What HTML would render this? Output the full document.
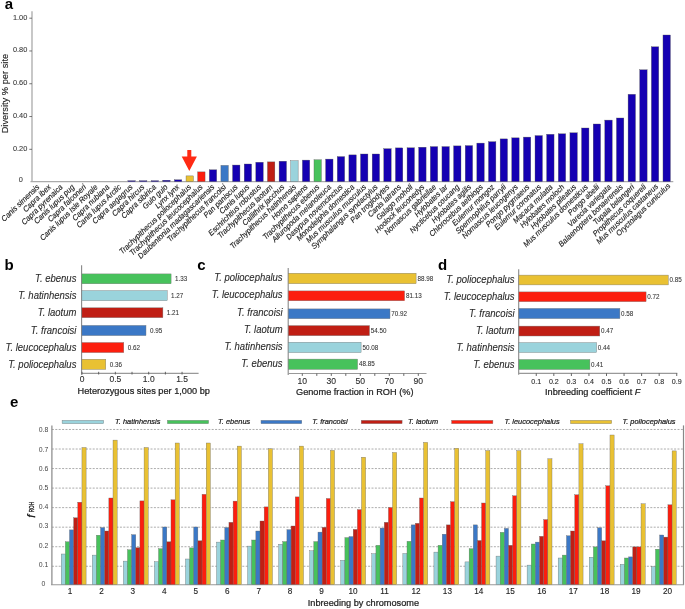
<!DOCTYPE html>
<html><head><meta charset="utf-8"><style>
html,body{margin:0;padding:0;background:#fff;width:685px;height:609px;overflow:hidden;}
svg{display:block;will-change:transform;font-family:"Liberation Sans", sans-serif;}
</style></head><body>
<svg width="685" height="609" viewBox="0 0 685 609">
<rect width="685" height="609" fill="#fff"/>
<text transform="translate(4.80,8.70) scale(1,1)" font-size="15" text-anchor="start" fill="#000" stroke="#000" stroke-width="0" font-weight="bold">a</text>
<line x1="32.00" y1="11.30" x2="32.00" y2="182.10" stroke="#aaa" stroke-width="1.3"/>
<line x1="30.50" y1="181.70" x2="673.30" y2="181.70" stroke="#aaa" stroke-width="1.2"/>
<line x1="29.30" y1="18.20" x2="32.00" y2="18.20" stroke="#555" stroke-width="0.8"/>
<text transform="translate(27.30,19.50) scale(1,1.07)" font-size="7.4" text-anchor="end" fill="#3a3a3a" stroke="#3a3a3a" stroke-width="0.22" stroke-opacity="0.4">1.00</text>
<line x1="29.30" y1="50.98" x2="32.00" y2="50.98" stroke="#555" stroke-width="0.8"/>
<text transform="translate(27.30,52.28) scale(1,1.07)" font-size="7.4" text-anchor="end" fill="#3a3a3a" stroke="#3a3a3a" stroke-width="0.22" stroke-opacity="0.4">0.80</text>
<line x1="29.30" y1="83.76" x2="32.00" y2="83.76" stroke="#555" stroke-width="0.8"/>
<text transform="translate(27.30,85.06) scale(1,1.07)" font-size="7.4" text-anchor="end" fill="#3a3a3a" stroke="#3a3a3a" stroke-width="0.22" stroke-opacity="0.4">0.60</text>
<line x1="29.30" y1="116.54" x2="32.00" y2="116.54" stroke="#555" stroke-width="0.8"/>
<text transform="translate(27.30,117.84) scale(1,1.07)" font-size="7.4" text-anchor="end" fill="#3a3a3a" stroke="#3a3a3a" stroke-width="0.22" stroke-opacity="0.4">0.40</text>
<line x1="29.30" y1="149.32" x2="32.00" y2="149.32" stroke="#555" stroke-width="0.8"/>
<text transform="translate(27.30,150.62) scale(1,1.07)" font-size="7.4" text-anchor="end" fill="#3a3a3a" stroke="#3a3a3a" stroke-width="0.22" stroke-opacity="0.4">0.20</text>
<text transform="translate(22.80,182.00) scale(1,1.07)" font-size="7.4" text-anchor="end" fill="#3a3a3a" stroke="#3a3a3a" stroke-width="0.22" stroke-opacity="0.4">0</text>
<text transform="translate(7.9,93.6) rotate(-90) scale(1,1.07)" font-size="9.3" text-anchor="middle" fill="#222" stroke="#222" stroke-width="0.12">Diversity % per site</text>
<text transform="translate(39.90,187.70) rotate(-44) scale(1,1.07)" font-size="7.35" font-style="italic" text-anchor="end" fill="#222" stroke="#222" stroke-width="0.14">Canis simensis</text>
<text transform="translate(51.57,187.70) rotate(-44) scale(1,1.07)" font-size="7.35" font-style="italic" text-anchor="end" fill="#222" stroke="#222" stroke-width="0.14">Capra ibex</text>
<text transform="translate(63.24,187.70) rotate(-44) scale(1,1.07)" font-size="7.35" font-style="italic" text-anchor="end" fill="#222" stroke="#222" stroke-width="0.14">Capra pyrenaica</text>
<text transform="translate(74.90,187.70) rotate(-44) scale(1,1.07)" font-size="7.35" font-style="italic" text-anchor="end" fill="#222" stroke="#222" stroke-width="0.14">Canis lupus pug</text>
<text transform="translate(86.57,187.70) rotate(-44) scale(1,1.07)" font-size="7.35" font-style="italic" text-anchor="end" fill="#222" stroke="#222" stroke-width="0.14">Capra falconeri</text>
<text transform="translate(98.24,187.70) rotate(-44) scale(1,1.07)" font-size="7.35" font-style="italic" text-anchor="end" fill="#222" stroke="#222" stroke-width="0.14">Canis lupus Isle Royale</text>
<text transform="translate(109.91,187.70) rotate(-44) scale(1,1.07)" font-size="7.35" font-style="italic" text-anchor="end" fill="#222" stroke="#222" stroke-width="0.14">Capra nubiana</text>
<text transform="translate(121.58,187.70) rotate(-44) scale(1,1.07)" font-size="7.35" font-style="italic" text-anchor="end" fill="#222" stroke="#222" stroke-width="0.14">Canis lupus Arctic</text>
<rect x="127.86" y="180.70" width="7.40" height="0.90" fill="#1500b2" stroke="#555" stroke-width="0.35"/>
<text transform="translate(133.24,187.70) rotate(-44) scale(1,1.07)" font-size="7.35" font-style="italic" text-anchor="end" fill="#222" stroke="#222" stroke-width="0.14">Capra aegagrus</text>
<rect x="139.50" y="180.70" width="7.40" height="0.90" fill="#1500b2" stroke="#555" stroke-width="0.35"/>
<text transform="translate(144.91,187.70) rotate(-44) scale(1,1.07)" font-size="7.35" font-style="italic" text-anchor="end" fill="#222" stroke="#222" stroke-width="0.14">Capra hircus</text>
<rect x="151.13" y="180.70" width="7.40" height="0.90" fill="#1500b2" stroke="#555" stroke-width="0.35"/>
<text transform="translate(156.58,187.70) rotate(-44) scale(1,1.07)" font-size="7.35" font-style="italic" text-anchor="end" fill="#222" stroke="#222" stroke-width="0.14">Capra sibirica</text>
<rect x="162.76" y="180.20" width="7.40" height="1.40" fill="#1500b2" stroke="#555" stroke-width="0.35"/>
<text transform="translate(168.25,187.70) rotate(-44) scale(1,1.07)" font-size="7.35" font-style="italic" text-anchor="end" fill="#222" stroke="#222" stroke-width="0.14">Gulo gulo</text>
<rect x="174.40" y="179.80" width="7.40" height="1.80" fill="#1500b2" stroke="#555" stroke-width="0.35"/>
<text transform="translate(179.92,187.70) rotate(-44) scale(1,1.07)" font-size="7.35" font-style="italic" text-anchor="end" fill="#222" stroke="#222" stroke-width="0.14">Lynx lynx</text>
<rect x="186.03" y="175.90" width="7.40" height="5.70" fill="#e9c133" stroke="#555" stroke-width="0.35"/>
<text transform="translate(191.58,187.70) rotate(-44) scale(1,1.07)" font-size="7.35" font-style="italic" text-anchor="end" fill="#222" stroke="#222" stroke-width="0.14">Trachypithecus poliocephalus</text>
<rect x="197.66" y="171.90" width="7.40" height="9.70" fill="#fc1e0e" stroke="#555" stroke-width="0.35"/>
<text transform="translate(203.25,187.70) rotate(-44) scale(1,1.07)" font-size="7.35" font-style="italic" text-anchor="end" fill="#222" stroke="#222" stroke-width="0.14">Trachypithecus leucocephalus</text>
<rect x="209.29" y="169.80" width="7.40" height="11.80" fill="#1500b2" stroke="#555" stroke-width="0.35"/>
<text transform="translate(214.92,187.70) rotate(-44) scale(1,1.07)" font-size="7.35" font-style="italic" text-anchor="end" fill="#222" stroke="#222" stroke-width="0.14">Daubentonia madagascariensis</text>
<rect x="220.93" y="165.40" width="7.40" height="16.20" fill="#3b78c6" stroke="#555" stroke-width="0.35"/>
<text transform="translate(226.59,187.70) rotate(-44) scale(1,1.07)" font-size="7.35" font-style="italic" text-anchor="end" fill="#222" stroke="#222" stroke-width="0.14">Trachypithecus francoisi</text>
<rect x="232.56" y="165.05" width="7.40" height="16.55" fill="#1500b2" stroke="#555" stroke-width="0.35"/>
<text transform="translate(238.26,187.70) rotate(-44) scale(1,1.07)" font-size="7.35" font-style="italic" text-anchor="end" fill="#222" stroke="#222" stroke-width="0.14">Pan paniscus</text>
<rect x="244.19" y="164.00" width="7.40" height="17.60" fill="#1500b2" stroke="#555" stroke-width="0.35"/>
<text transform="translate(249.92,187.70) rotate(-44) scale(1,1.07)" font-size="7.35" font-style="italic" text-anchor="end" fill="#222" stroke="#222" stroke-width="0.14">Canis lupus</text>
<rect x="255.83" y="162.25" width="7.40" height="19.35" fill="#1500b2" stroke="#555" stroke-width="0.35"/>
<text transform="translate(261.59,187.70) rotate(-44) scale(1,1.07)" font-size="7.35" font-style="italic" text-anchor="end" fill="#222" stroke="#222" stroke-width="0.14">Eschrichtius robustus</text>
<rect x="267.46" y="161.90" width="7.40" height="19.70" fill="#c01e14" stroke="#555" stroke-width="0.35"/>
<text transform="translate(273.26,187.70) rotate(-44) scale(1,1.07)" font-size="7.35" font-style="italic" text-anchor="end" fill="#222" stroke="#222" stroke-width="0.14">Trachypithecus laotum</text>
<rect x="279.09" y="161.20" width="7.40" height="20.40" fill="#1500b2" stroke="#555" stroke-width="0.35"/>
<text transform="translate(284.93,187.70) rotate(-44) scale(1,1.07)" font-size="7.35" font-style="italic" text-anchor="end" fill="#222" stroke="#222" stroke-width="0.14">Callithrix jacchus</text>
<rect x="290.73" y="160.75" width="7.40" height="20.85" fill="#9ad3dc" stroke="#555" stroke-width="0.35"/>
<text transform="translate(296.60,187.70) rotate(-44) scale(1,1.07)" font-size="7.35" font-style="italic" text-anchor="end" fill="#222" stroke="#222" stroke-width="0.14">Trachypithecus hatinhensis</text>
<rect x="302.36" y="160.10" width="7.40" height="21.50" fill="#1500b2" stroke="#555" stroke-width="0.35"/>
<text transform="translate(308.26,187.70) rotate(-44) scale(1,1.07)" font-size="7.35" font-style="italic" text-anchor="end" fill="#222" stroke="#222" stroke-width="0.14">Homo sapiens</text>
<rect x="313.99" y="159.80" width="7.40" height="21.80" fill="#47c25c" stroke="#555" stroke-width="0.35"/>
<text transform="translate(319.93,187.70) rotate(-44) scale(1,1.07)" font-size="7.35" font-style="italic" text-anchor="end" fill="#222" stroke="#222" stroke-width="0.14">Trachypithecus ebenus</text>
<rect x="325.62" y="159.10" width="7.40" height="22.50" fill="#1500b2" stroke="#555" stroke-width="0.35"/>
<text transform="translate(331.60,187.70) rotate(-44) scale(1,1.07)" font-size="7.35" font-style="italic" text-anchor="end" fill="#222" stroke="#222" stroke-width="0.14">Ailuropoda melanoleuca</text>
<rect x="337.26" y="156.60" width="7.40" height="25.00" fill="#1500b2" stroke="#555" stroke-width="0.35"/>
<text transform="translate(343.27,187.70) rotate(-44) scale(1,1.07)" font-size="7.35" font-style="italic" text-anchor="end" fill="#222" stroke="#222" stroke-width="0.14">Dasypus novemcinctus</text>
<rect x="348.89" y="154.90" width="7.40" height="26.70" fill="#1500b2" stroke="#555" stroke-width="0.35"/>
<text transform="translate(354.94,187.70) rotate(-44) scale(1,1.07)" font-size="7.35" font-style="italic" text-anchor="end" fill="#222" stroke="#222" stroke-width="0.14">Monodelphis domestica</text>
<rect x="360.52" y="154.00" width="7.40" height="27.60" fill="#1500b2" stroke="#555" stroke-width="0.35"/>
<text transform="translate(366.60,187.70) rotate(-44) scale(1,1.07)" font-size="7.35" font-style="italic" text-anchor="end" fill="#222" stroke="#222" stroke-width="0.14">Mus musculus musculus</text>
<rect x="372.16" y="154.00" width="7.40" height="27.60" fill="#1500b2" stroke="#555" stroke-width="0.35"/>
<text transform="translate(378.27,187.70) rotate(-44) scale(1,1.07)" font-size="7.35" font-style="italic" text-anchor="end" fill="#222" stroke="#222" stroke-width="0.14">Symphalangus syndactylus</text>
<rect x="383.79" y="148.70" width="7.40" height="32.90" fill="#1500b2" stroke="#555" stroke-width="0.35"/>
<text transform="translate(389.94,187.70) rotate(-44) scale(1,1.07)" font-size="7.35" font-style="italic" text-anchor="end" fill="#222" stroke="#222" stroke-width="0.14">Pan troglodytes</text>
<rect x="395.42" y="147.90" width="7.40" height="33.70" fill="#1500b2" stroke="#555" stroke-width="0.35"/>
<text transform="translate(401.61,187.70) rotate(-44) scale(1,1.07)" font-size="7.35" font-style="italic" text-anchor="end" fill="#222" stroke="#222" stroke-width="0.14">Canis latrans</text>
<rect x="407.06" y="147.80" width="7.40" height="33.80" fill="#1500b2" stroke="#555" stroke-width="0.35"/>
<text transform="translate(413.28,187.70) rotate(-44) scale(1,1.07)" font-size="7.35" font-style="italic" text-anchor="end" fill="#222" stroke="#222" stroke-width="0.14">Galago moholi</text>
<rect x="418.69" y="147.20" width="7.40" height="34.40" fill="#1500b2" stroke="#555" stroke-width="0.35"/>
<text transform="translate(424.94,187.70) rotate(-44) scale(1,1.07)" font-size="7.35" font-style="italic" text-anchor="end" fill="#222" stroke="#222" stroke-width="0.14">Hoolock leuconedys</text>
<rect x="430.32" y="146.60" width="7.40" height="35.00" fill="#1500b2" stroke="#555" stroke-width="0.35"/>
<text transform="translate(436.61,187.70) rotate(-44) scale(1,1.07)" font-size="7.35" font-style="italic" text-anchor="end" fill="#222" stroke="#222" stroke-width="0.14">Nomascus gabriellae</text>
<rect x="441.95" y="146.60" width="7.40" height="35.00" fill="#1500b2" stroke="#555" stroke-width="0.35"/>
<text transform="translate(448.28,187.70) rotate(-44) scale(1,1.07)" font-size="7.35" font-style="italic" text-anchor="end" fill="#222" stroke="#222" stroke-width="0.14">Hylobates lar</text>
<rect x="453.59" y="145.90" width="7.40" height="35.70" fill="#1500b2" stroke="#555" stroke-width="0.35"/>
<text transform="translate(459.95,187.70) rotate(-44) scale(1,1.07)" font-size="7.35" font-style="italic" text-anchor="end" fill="#222" stroke="#222" stroke-width="0.14">Nycticebus coucang</text>
<rect x="465.22" y="145.60" width="7.40" height="36.00" fill="#1500b2" stroke="#555" stroke-width="0.35"/>
<text transform="translate(471.62,187.70) rotate(-44) scale(1,1.07)" font-size="7.35" font-style="italic" text-anchor="end" fill="#222" stroke="#222" stroke-width="0.14">Hylobates agilis</text>
<rect x="476.85" y="143.10" width="7.40" height="38.50" fill="#1500b2" stroke="#555" stroke-width="0.35"/>
<text transform="translate(483.28,187.70) rotate(-44) scale(1,1.07)" font-size="7.35" font-style="italic" text-anchor="end" fill="#222" stroke="#222" stroke-width="0.14">Chlorocebus aethiops</text>
<rect x="488.49" y="141.70" width="7.40" height="39.90" fill="#1500b2" stroke="#555" stroke-width="0.35"/>
<text transform="translate(494.95,187.70) rotate(-44) scale(1,1.07)" font-size="7.35" font-style="italic" text-anchor="end" fill="#222" stroke="#222" stroke-width="0.14">Eulemur mongoz</text>
<rect x="500.12" y="138.90" width="7.40" height="42.70" fill="#1500b2" stroke="#555" stroke-width="0.35"/>
<text transform="translate(506.62,187.70) rotate(-44) scale(1,1.07)" font-size="7.35" font-style="italic" text-anchor="end" fill="#222" stroke="#222" stroke-width="0.14">Spermophilus parryii</text>
<rect x="511.75" y="137.85" width="7.40" height="43.75" fill="#1500b2" stroke="#555" stroke-width="0.35"/>
<text transform="translate(518.29,187.70) rotate(-44) scale(1,1.07)" font-size="7.35" font-style="italic" text-anchor="end" fill="#222" stroke="#222" stroke-width="0.14">Nomascus leucogenys</text>
<rect x="523.39" y="137.10" width="7.40" height="44.50" fill="#1500b2" stroke="#555" stroke-width="0.35"/>
<text transform="translate(529.96,187.70) rotate(-44) scale(1,1.07)" font-size="7.35" font-style="italic" text-anchor="end" fill="#222" stroke="#222" stroke-width="0.14">Pongo pygmaeus</text>
<rect x="535.02" y="135.60" width="7.40" height="46.00" fill="#1500b2" stroke="#555" stroke-width="0.35"/>
<text transform="translate(541.62,187.70) rotate(-44) scale(1,1.07)" font-size="7.35" font-style="italic" text-anchor="end" fill="#222" stroke="#222" stroke-width="0.14">Eulemur coronatus</text>
<rect x="546.65" y="134.30" width="7.40" height="47.30" fill="#1500b2" stroke="#555" stroke-width="0.35"/>
<text transform="translate(553.29,187.70) rotate(-44) scale(1,1.07)" font-size="7.35" font-style="italic" text-anchor="end" fill="#222" stroke="#222" stroke-width="0.14">Macaca mulatta</text>
<rect x="558.28" y="133.80" width="7.40" height="47.80" fill="#1500b2" stroke="#555" stroke-width="0.35"/>
<text transform="translate(564.96,187.70) rotate(-44) scale(1,1.07)" font-size="7.35" font-style="italic" text-anchor="end" fill="#222" stroke="#222" stroke-width="0.14">Hylobates moloch</text>
<rect x="569.92" y="132.80" width="7.40" height="48.80" fill="#1500b2" stroke="#555" stroke-width="0.35"/>
<text transform="translate(576.63,187.70) rotate(-44) scale(1,1.07)" font-size="7.35" font-style="italic" text-anchor="end" fill="#222" stroke="#222" stroke-width="0.14">Hylobates pileatus</text>
<rect x="581.55" y="128.00" width="7.40" height="53.60" fill="#1500b2" stroke="#555" stroke-width="0.35"/>
<text transform="translate(588.30,187.70) rotate(-44) scale(1,1.07)" font-size="7.35" font-style="italic" text-anchor="end" fill="#222" stroke="#222" stroke-width="0.14">Mus musculus domesticus</text>
<rect x="593.18" y="124.00" width="7.40" height="57.60" fill="#1500b2" stroke="#555" stroke-width="0.35"/>
<text transform="translate(599.96,187.70) rotate(-44) scale(1,1.07)" font-size="7.35" font-style="italic" text-anchor="end" fill="#222" stroke="#222" stroke-width="0.14">Pongo abelii</text>
<rect x="604.82" y="120.10" width="7.40" height="61.50" fill="#1500b2" stroke="#555" stroke-width="0.35"/>
<text transform="translate(611.63,187.70) rotate(-44) scale(1,1.07)" font-size="7.35" font-style="italic" text-anchor="end" fill="#222" stroke="#222" stroke-width="0.14">Varecia variegata</text>
<rect x="616.45" y="118.00" width="7.40" height="63.60" fill="#1500b2" stroke="#555" stroke-width="0.35"/>
<text transform="translate(623.30,187.70) rotate(-44) scale(1,1.07)" font-size="7.35" font-style="italic" text-anchor="end" fill="#222" stroke="#222" stroke-width="0.14">Balaenoptera bonaerensis</text>
<rect x="628.08" y="94.30" width="7.40" height="87.30" fill="#1500b2" stroke="#555" stroke-width="0.35"/>
<text transform="translate(634.97,187.70) rotate(-44) scale(1,1.07)" font-size="7.35" font-style="italic" text-anchor="end" fill="#222" stroke="#222" stroke-width="0.14">Tupaia belangeri</text>
<rect x="639.72" y="69.80" width="7.40" height="111.80" fill="#1500b2" stroke="#555" stroke-width="0.35"/>
<text transform="translate(646.64,187.70) rotate(-44) scale(1,1.07)" font-size="7.35" font-style="italic" text-anchor="end" fill="#222" stroke="#222" stroke-width="0.14">Propithecus coquereli</text>
<rect x="651.35" y="46.80" width="7.40" height="134.80" fill="#1500b2" stroke="#555" stroke-width="0.35"/>
<text transform="translate(658.60,187.20) rotate(-44) scale(1,1.07)" font-size="7.35" font-style="italic" text-anchor="end" fill="#222" stroke="#222" stroke-width="0.14">Mus musculus castaneus</text>
<rect x="662.98" y="35.00" width="7.40" height="146.60" fill="#1500b2" stroke="#555" stroke-width="0.35"/>
<text transform="translate(670.77,186.50) rotate(-44) scale(1,1.07)" font-size="7.35" font-style="italic" text-anchor="end" fill="#222" stroke="#222" stroke-width="0.14">Oryctolagus cuniculus</text>
<path d="M187.3,149.9 L191.3,149.9 L191.3,156.4 L196.9,156.4 L189.3,171.0 L181.7,156.4 L187.3,156.4 Z" fill="#ff2a14"/>
<text transform="translate(4.50,270.10) scale(1,1)" font-size="15" text-anchor="start" fill="#000" stroke="#000" stroke-width="0" font-weight="bold">b</text>
<line x1="81.60" y1="265.20" x2="81.60" y2="374.80" stroke="#888" stroke-width="1.1"/>
<line x1="81.60" y1="373.30" x2="198.60" y2="373.30" stroke="#999" stroke-width="1.2"/>
<rect x="81.90" y="273.90" width="89.20" height="9.90" fill="#47c25c" stroke="#777" stroke-width="0.4"/>
<text transform="translate(76.40,282.25) scale(1,1.07)" font-size="9.5" text-anchor="end" fill="#2a2a2a" stroke="#2a2a2a" stroke-width="0.22" font-style="italic" stroke-opacity="0.45">T. ebenus</text>
<text transform="translate(175.00,281.05) scale(1,1.07)" font-size="6.3" text-anchor="start" fill="#333" stroke="#333" stroke-width="0.22" stroke-opacity="0.3">1.33</text>
<rect x="81.90" y="290.60" width="85.30" height="10.10" fill="#9ad3dc" stroke="#777" stroke-width="0.4"/>
<text transform="translate(76.40,299.05) scale(1,1.07)" font-size="9.5" text-anchor="end" fill="#2a2a2a" stroke="#2a2a2a" stroke-width="0.22" font-style="italic" stroke-opacity="0.45">T. hatinhensis</text>
<text transform="translate(171.10,297.85) scale(1,1.07)" font-size="6.3" text-anchor="start" fill="#333" stroke="#333" stroke-width="0.22" stroke-opacity="0.3">1.27</text>
<rect x="81.90" y="307.80" width="81.00" height="9.90" fill="#c01e14" stroke="#777" stroke-width="0.4"/>
<text transform="translate(76.40,316.15) scale(1,1.07)" font-size="9.5" text-anchor="end" fill="#2a2a2a" stroke="#2a2a2a" stroke-width="0.22" font-style="italic" stroke-opacity="0.45">T. laotum</text>
<text transform="translate(166.80,314.95) scale(1,1.07)" font-size="6.3" text-anchor="start" fill="#333" stroke="#333" stroke-width="0.22" stroke-opacity="0.3">1.21</text>
<rect x="81.90" y="325.40" width="64.10" height="10.20" fill="#3b78c6" stroke="#777" stroke-width="0.4"/>
<text transform="translate(76.40,333.90) scale(1,1.07)" font-size="9.5" text-anchor="end" fill="#2a2a2a" stroke="#2a2a2a" stroke-width="0.22" font-style="italic" stroke-opacity="0.45">T. francoisi</text>
<text transform="translate(149.90,332.70) scale(1,1.07)" font-size="6.3" text-anchor="start" fill="#333" stroke="#333" stroke-width="0.22" stroke-opacity="0.3">0.95</text>
<rect x="81.90" y="342.50" width="41.90" height="10.10" fill="#fc1e0e" stroke="#777" stroke-width="0.4"/>
<text transform="translate(76.40,350.95) scale(1,1.07)" font-size="9.5" text-anchor="end" fill="#2a2a2a" stroke="#2a2a2a" stroke-width="0.22" font-style="italic" stroke-opacity="0.45">T. leucocephalus</text>
<text transform="translate(127.70,349.75) scale(1,1.07)" font-size="6.3" text-anchor="start" fill="#333" stroke="#333" stroke-width="0.22" stroke-opacity="0.3">0.62</text>
<rect x="81.90" y="359.20" width="23.90" height="10.20" fill="#e9c133" stroke="#777" stroke-width="0.4"/>
<text transform="translate(76.40,367.70) scale(1,1.07)" font-size="9.5" text-anchor="end" fill="#2a2a2a" stroke="#2a2a2a" stroke-width="0.22" font-style="italic" stroke-opacity="0.45">T. poliocephalus</text>
<text transform="translate(109.70,366.50) scale(1,1.07)" font-size="6.3" text-anchor="start" fill="#333" stroke="#333" stroke-width="0.22" stroke-opacity="0.3">0.36</text>
<line x1="82.00" y1="371.80" x2="82.00" y2="374.50" stroke="#555" stroke-width="0.9"/>
<line x1="98.67" y1="371.80" x2="98.67" y2="374.50" stroke="#555" stroke-width="0.9"/>
<line x1="115.35" y1="371.80" x2="115.35" y2="374.50" stroke="#555" stroke-width="0.9"/>
<line x1="132.03" y1="371.80" x2="132.03" y2="374.50" stroke="#555" stroke-width="0.9"/>
<line x1="148.70" y1="371.80" x2="148.70" y2="374.50" stroke="#555" stroke-width="0.9"/>
<line x1="165.38" y1="371.80" x2="165.38" y2="374.50" stroke="#555" stroke-width="0.9"/>
<line x1="182.05" y1="371.80" x2="182.05" y2="374.50" stroke="#555" stroke-width="0.9"/>
<text transform="translate(82.00,381.90) scale(1,1.07)" font-size="8.5" text-anchor="middle" fill="#2a2a2a" stroke="#2a2a2a" stroke-width="0.22" stroke-opacity="0.45">0</text>
<text transform="translate(115.35,381.90) scale(1,1.07)" font-size="8.5" text-anchor="middle" fill="#2a2a2a" stroke="#2a2a2a" stroke-width="0.22" stroke-opacity="0.45">0.5</text>
<text transform="translate(148.70,381.90) scale(1,1.07)" font-size="8.5" text-anchor="middle" fill="#2a2a2a" stroke="#2a2a2a" stroke-width="0.22" stroke-opacity="0.45">1.0</text>
<text transform="translate(182.05,381.90) scale(1,1.07)" font-size="8.5" text-anchor="middle" fill="#2a2a2a" stroke="#2a2a2a" stroke-width="0.22" stroke-opacity="0.45">1.5</text>
<text transform="translate(77.60,393.90) scale(1,1.07)" font-size="9.2" fill="#222" stroke="#222" stroke-width="0.22">Heterozygous sites per 1,000 bp</text>
<text transform="translate(197.30,270.40) scale(1,1)" font-size="15" text-anchor="start" fill="#000" stroke="#000" stroke-width="0" font-weight="bold">c</text>
<line x1="288.20" y1="268.10" x2="288.20" y2="375.00" stroke="#888" stroke-width="1.1"/>
<line x1="288.20" y1="373.50" x2="426.50" y2="373.50" stroke="#999" stroke-width="1.2"/>
<rect x="288.40" y="273.20" width="127.70" height="10.50" fill="#e9c133" stroke="#777" stroke-width="0.4"/>
<text transform="translate(282.60,280.85) scale(1,1.07)" font-size="9.5" text-anchor="end" fill="#2a2a2a" stroke="#2a2a2a" stroke-width="0.22" font-style="italic" stroke-opacity="0.45">T. poliocephalus</text>
<text transform="translate(417.40,280.65) scale(1,1.07)" font-size="6.3" text-anchor="start" fill="#333" stroke="#333" stroke-width="0.22" stroke-opacity="0.3">88.98</text>
<rect x="288.40" y="290.90" width="116.20" height="9.90" fill="#fc1e0e" stroke="#777" stroke-width="0.4"/>
<text transform="translate(282.60,298.25) scale(1,1.07)" font-size="9.5" text-anchor="end" fill="#2a2a2a" stroke="#2a2a2a" stroke-width="0.22" font-style="italic" stroke-opacity="0.45">T. leucocephalus</text>
<text transform="translate(405.90,298.05) scale(1,1.07)" font-size="6.3" text-anchor="start" fill="#333" stroke="#333" stroke-width="0.22" stroke-opacity="0.3">81.13</text>
<rect x="288.40" y="308.90" width="101.60" height="9.80" fill="#3b78c6" stroke="#777" stroke-width="0.4"/>
<text transform="translate(282.60,316.20) scale(1,1.07)" font-size="9.5" text-anchor="end" fill="#2a2a2a" stroke="#2a2a2a" stroke-width="0.22" font-style="italic" stroke-opacity="0.45">T. francoisi</text>
<text transform="translate(391.30,316.00) scale(1,1.07)" font-size="6.3" text-anchor="start" fill="#333" stroke="#333" stroke-width="0.22" stroke-opacity="0.3">70.92</text>
<rect x="288.40" y="325.60" width="81.10" height="10.10" fill="#c01e14" stroke="#777" stroke-width="0.4"/>
<text transform="translate(282.60,333.05) scale(1,1.07)" font-size="9.5" text-anchor="end" fill="#2a2a2a" stroke="#2a2a2a" stroke-width="0.22" font-style="italic" stroke-opacity="0.45">T. laotum</text>
<text transform="translate(370.80,332.85) scale(1,1.07)" font-size="6.3" text-anchor="start" fill="#333" stroke="#333" stroke-width="0.22" stroke-opacity="0.3">54.50</text>
<rect x="288.40" y="342.20" width="72.70" height="10.40" fill="#9ad3dc" stroke="#777" stroke-width="0.4"/>
<text transform="translate(282.60,349.80) scale(1,1.07)" font-size="9.5" text-anchor="end" fill="#2a2a2a" stroke="#2a2a2a" stroke-width="0.22" font-style="italic" stroke-opacity="0.45">T. hatinhensis</text>
<text transform="translate(362.40,349.60) scale(1,1.07)" font-size="6.3" text-anchor="start" fill="#333" stroke="#333" stroke-width="0.22" stroke-opacity="0.3">50.08</text>
<rect x="288.40" y="359.10" width="69.20" height="10.30" fill="#47c25c" stroke="#777" stroke-width="0.4"/>
<text transform="translate(282.60,366.65) scale(1,1.07)" font-size="9.5" text-anchor="end" fill="#2a2a2a" stroke="#2a2a2a" stroke-width="0.22" font-style="italic" stroke-opacity="0.45">T. ebenus</text>
<text transform="translate(358.90,366.45) scale(1,1.07)" font-size="6.3" text-anchor="start" fill="#333" stroke="#333" stroke-width="0.22" stroke-opacity="0.3">48.85</text>
<line x1="302.30" y1="373.50" x2="302.30" y2="375.90" stroke="#555" stroke-width="0.9"/>
<line x1="316.80" y1="373.50" x2="316.80" y2="375.90" stroke="#555" stroke-width="0.9"/>
<line x1="331.30" y1="373.50" x2="331.30" y2="375.90" stroke="#555" stroke-width="0.9"/>
<line x1="345.80" y1="373.50" x2="345.80" y2="375.90" stroke="#555" stroke-width="0.9"/>
<line x1="360.30" y1="373.50" x2="360.30" y2="375.90" stroke="#555" stroke-width="0.9"/>
<line x1="374.80" y1="373.50" x2="374.80" y2="375.90" stroke="#555" stroke-width="0.9"/>
<line x1="389.30" y1="373.50" x2="389.30" y2="375.90" stroke="#555" stroke-width="0.9"/>
<line x1="403.80" y1="373.50" x2="403.80" y2="375.90" stroke="#555" stroke-width="0.9"/>
<line x1="418.30" y1="373.50" x2="418.30" y2="375.90" stroke="#555" stroke-width="0.9"/>
<text transform="translate(302.30,384.30) scale(1,1.07)" font-size="8.6" text-anchor="middle" fill="#2a2a2a" stroke="#2a2a2a" stroke-width="0.22" stroke-opacity="0.45">10</text>
<text transform="translate(331.30,384.30) scale(1,1.07)" font-size="8.6" text-anchor="middle" fill="#2a2a2a" stroke="#2a2a2a" stroke-width="0.22" stroke-opacity="0.45">30</text>
<text transform="translate(360.30,384.30) scale(1,1.07)" font-size="8.6" text-anchor="middle" fill="#2a2a2a" stroke="#2a2a2a" stroke-width="0.22" stroke-opacity="0.45">50</text>
<text transform="translate(389.30,384.30) scale(1,1.07)" font-size="8.6" text-anchor="middle" fill="#2a2a2a" stroke="#2a2a2a" stroke-width="0.22" stroke-opacity="0.45">70</text>
<text transform="translate(418.30,384.30) scale(1,1.07)" font-size="8.6" text-anchor="middle" fill="#2a2a2a" stroke="#2a2a2a" stroke-width="0.22" stroke-opacity="0.45">90</text>
<text transform="translate(296.00,394.60) scale(1,1.07)" font-size="9.2" fill="#222" stroke="#222" stroke-width="0.22">Genome fraction in ROH (%)</text>
<text transform="translate(438.00,269.60) scale(1,1)" font-size="15" text-anchor="start" fill="#000" stroke="#000" stroke-width="0" font-weight="bold">d</text>
<line x1="518.70" y1="269.30" x2="518.70" y2="374.80" stroke="#888" stroke-width="1.1"/>
<line x1="518.70" y1="373.30" x2="677.30" y2="373.30" stroke="#999" stroke-width="1.2"/>
<rect x="518.90" y="275.10" width="149.40" height="9.80" fill="#e9c133" stroke="#777" stroke-width="0.4"/>
<text transform="translate(514.60,283.10) scale(1,1.07)" font-size="9.5" text-anchor="end" fill="#2a2a2a" stroke="#2a2a2a" stroke-width="0.22" font-style="italic" stroke-opacity="0.45">T. poliocephalus</text>
<text transform="translate(669.40,282.20) scale(1,1.07)" font-size="6.3" text-anchor="start" fill="#333" stroke="#333" stroke-width="0.22" stroke-opacity="0.3">0.85</text>
<rect x="518.90" y="291.90" width="127.20" height="9.80" fill="#fc1e0e" stroke="#777" stroke-width="0.4"/>
<text transform="translate(514.60,299.90) scale(1,1.07)" font-size="9.5" text-anchor="end" fill="#2a2a2a" stroke="#2a2a2a" stroke-width="0.22" font-style="italic" stroke-opacity="0.45">T. leucocephalus</text>
<text transform="translate(647.20,299.00) scale(1,1.07)" font-size="6.3" text-anchor="start" fill="#333" stroke="#333" stroke-width="0.22" stroke-opacity="0.3">0.72</text>
<rect x="518.90" y="308.40" width="101.00" height="10.20" fill="#3b78c6" stroke="#777" stroke-width="0.4"/>
<text transform="translate(514.60,316.60) scale(1,1.07)" font-size="9.5" text-anchor="end" fill="#2a2a2a" stroke="#2a2a2a" stroke-width="0.22" font-style="italic" stroke-opacity="0.45">T. francoisi</text>
<text transform="translate(621.00,315.70) scale(1,1.07)" font-size="6.3" text-anchor="start" fill="#333" stroke="#333" stroke-width="0.22" stroke-opacity="0.3">0.58</text>
<rect x="518.90" y="326.10" width="80.90" height="9.90" fill="#c01e14" stroke="#777" stroke-width="0.4"/>
<text transform="translate(514.60,334.15) scale(1,1.07)" font-size="9.5" text-anchor="end" fill="#2a2a2a" stroke="#2a2a2a" stroke-width="0.22" font-style="italic" stroke-opacity="0.45">T. laotum</text>
<text transform="translate(600.90,333.25) scale(1,1.07)" font-size="6.3" text-anchor="start" fill="#333" stroke="#333" stroke-width="0.22" stroke-opacity="0.3">0.47</text>
<rect x="518.90" y="342.60" width="77.70" height="9.90" fill="#9ad3dc" stroke="#777" stroke-width="0.4"/>
<text transform="translate(514.60,350.65) scale(1,1.07)" font-size="9.5" text-anchor="end" fill="#2a2a2a" stroke="#2a2a2a" stroke-width="0.22" font-style="italic" stroke-opacity="0.45">T. hatinhensis</text>
<text transform="translate(597.70,349.75) scale(1,1.07)" font-size="6.3" text-anchor="start" fill="#333" stroke="#333" stroke-width="0.22" stroke-opacity="0.3">0.44</text>
<rect x="518.90" y="359.50" width="71.00" height="10.00" fill="#47c25c" stroke="#777" stroke-width="0.4"/>
<text transform="translate(514.60,367.60) scale(1,1.07)" font-size="9.5" text-anchor="end" fill="#2a2a2a" stroke="#2a2a2a" stroke-width="0.22" font-style="italic" stroke-opacity="0.45">T. ebenus</text>
<text transform="translate(591.00,366.70) scale(1,1.07)" font-size="6.3" text-anchor="start" fill="#333" stroke="#333" stroke-width="0.22" stroke-opacity="0.3">0.41</text>
<line x1="536.26" y1="373.30" x2="536.26" y2="376.00" stroke="#555" stroke-width="0.9"/>
<line x1="553.82" y1="373.30" x2="553.82" y2="376.00" stroke="#555" stroke-width="0.9"/>
<line x1="571.38" y1="373.30" x2="571.38" y2="376.00" stroke="#555" stroke-width="0.9"/>
<line x1="588.94" y1="373.30" x2="588.94" y2="376.00" stroke="#555" stroke-width="0.9"/>
<line x1="606.50" y1="373.30" x2="606.50" y2="376.00" stroke="#555" stroke-width="0.9"/>
<line x1="624.06" y1="373.30" x2="624.06" y2="376.00" stroke="#555" stroke-width="0.9"/>
<line x1="641.62" y1="373.30" x2="641.62" y2="376.00" stroke="#555" stroke-width="0.9"/>
<line x1="659.18" y1="373.30" x2="659.18" y2="376.00" stroke="#555" stroke-width="0.9"/>
<line x1="676.74" y1="373.30" x2="676.74" y2="376.00" stroke="#555" stroke-width="0.9"/>
<text transform="translate(536.26,383.90) scale(1,1.07)" font-size="7.1" text-anchor="middle" fill="#2a2a2a" stroke="#2a2a2a" stroke-width="0.22" stroke-opacity="0.45">0.1</text>
<text transform="translate(553.82,383.90) scale(1,1.07)" font-size="7.1" text-anchor="middle" fill="#2a2a2a" stroke="#2a2a2a" stroke-width="0.22" stroke-opacity="0.45">0.2</text>
<text transform="translate(571.38,383.90) scale(1,1.07)" font-size="7.1" text-anchor="middle" fill="#2a2a2a" stroke="#2a2a2a" stroke-width="0.22" stroke-opacity="0.45">0.3</text>
<text transform="translate(588.94,383.90) scale(1,1.07)" font-size="7.1" text-anchor="middle" fill="#2a2a2a" stroke="#2a2a2a" stroke-width="0.22" stroke-opacity="0.45">0.4</text>
<text transform="translate(606.50,383.90) scale(1,1.07)" font-size="7.1" text-anchor="middle" fill="#2a2a2a" stroke="#2a2a2a" stroke-width="0.22" stroke-opacity="0.45">0.5</text>
<text transform="translate(624.06,383.90) scale(1,1.07)" font-size="7.1" text-anchor="middle" fill="#2a2a2a" stroke="#2a2a2a" stroke-width="0.22" stroke-opacity="0.45">0.6</text>
<text transform="translate(641.62,383.90) scale(1,1.07)" font-size="7.1" text-anchor="middle" fill="#2a2a2a" stroke="#2a2a2a" stroke-width="0.22" stroke-opacity="0.45">0.7</text>
<text transform="translate(659.18,383.90) scale(1,1.07)" font-size="7.1" text-anchor="middle" fill="#2a2a2a" stroke="#2a2a2a" stroke-width="0.22" stroke-opacity="0.45">0.8</text>
<text transform="translate(676.74,383.90) scale(1,1.07)" font-size="7.1" text-anchor="middle" fill="#2a2a2a" stroke="#2a2a2a" stroke-width="0.22" stroke-opacity="0.45">0.9</text>
<text transform="translate(545.00,394.60) scale(1,1.07)" font-size="9.2" fill="#222" stroke="#222" stroke-width="0.22">Inbreeding coefficient <tspan font-style="italic">F</tspan></text>
<text transform="translate(10.10,407.20) scale(1,1)" font-size="15" text-anchor="start" fill="#000" stroke="#000" stroke-width="0" font-weight="bold">e</text>
<rect x="62.10" y="420.30" width="41.60" height="3.40" fill="#9ad3dc" stroke="#777" stroke-width="0.4"/>
<text transform="translate(115.00,424.20) scale(1,1.07)" font-size="7.4" text-anchor="start" fill="#222" stroke="#222" stroke-width="0.22" font-style="italic">T. hatinhensis</text>
<rect x="167.40" y="420.30" width="41.20" height="3.40" fill="#47c25c" stroke="#777" stroke-width="0.4"/>
<text transform="translate(218.00,424.20) scale(1,1.07)" font-size="7.4" text-anchor="start" fill="#222" stroke="#222" stroke-width="0.22" font-style="italic">T. ebenus</text>
<rect x="261.00" y="420.30" width="40.80" height="3.40" fill="#3b78c6" stroke="#777" stroke-width="0.4"/>
<text transform="translate(312.20,424.20) scale(1,1.07)" font-size="7.4" text-anchor="start" fill="#222" stroke="#222" stroke-width="0.22" font-style="italic">T. francoisi</text>
<rect x="361.20" y="420.30" width="40.90" height="3.40" fill="#c01e14" stroke="#777" stroke-width="0.4"/>
<text transform="translate(408.00,424.20) scale(1,1.07)" font-size="7.4" text-anchor="start" fill="#222" stroke="#222" stroke-width="0.22" font-style="italic">T. laotum</text>
<rect x="451.60" y="420.30" width="41.30" height="3.40" fill="#fc1e0e" stroke="#777" stroke-width="0.4"/>
<text transform="translate(504.40,424.20) scale(1,1.07)" font-size="7.4" text-anchor="start" fill="#222" stroke="#222" stroke-width="0.22" font-style="italic">T. leucocephalus</text>
<rect x="570.50" y="420.30" width="41.20" height="3.40" fill="#e9c133" stroke="#777" stroke-width="0.4"/>
<text transform="translate(622.40,424.20) scale(1,1.07)" font-size="7.4" text-anchor="start" fill="#222" stroke="#222" stroke-width="0.22" font-style="italic">T. poliocephalus</text>
<line x1="51.90" y1="566.26" x2="683.50" y2="566.26" stroke="#888" stroke-width="0.7" stroke-dasharray="2,1.4"/>
<text transform="translate(48.30,566.84) scale(1,1.07)" font-size="6.9" text-anchor="end" fill="#444" stroke="#444" stroke-width="0.22" stroke-opacity="0">0.1</text>
<line x1="51.90" y1="546.72" x2="683.50" y2="546.72" stroke="#888" stroke-width="0.7" stroke-dasharray="2,1.4"/>
<text transform="translate(48.30,547.62) scale(1,1.07)" font-size="6.9" text-anchor="end" fill="#444" stroke="#444" stroke-width="0.22" stroke-opacity="0">0.2</text>
<line x1="51.90" y1="527.18" x2="683.50" y2="527.18" stroke="#888" stroke-width="0.7" stroke-dasharray="2,1.4"/>
<text transform="translate(48.30,528.40) scale(1,1.07)" font-size="6.9" text-anchor="end" fill="#444" stroke="#444" stroke-width="0.22" stroke-opacity="0">0.3</text>
<line x1="51.90" y1="507.64" x2="683.50" y2="507.64" stroke="#888" stroke-width="0.7" stroke-dasharray="2,1.4"/>
<text transform="translate(48.30,509.18) scale(1,1.07)" font-size="6.9" text-anchor="end" fill="#444" stroke="#444" stroke-width="0.22" stroke-opacity="0">0.4</text>
<line x1="51.90" y1="488.10" x2="683.50" y2="488.10" stroke="#888" stroke-width="0.7" stroke-dasharray="2,1.4"/>
<text transform="translate(48.30,489.96) scale(1,1.07)" font-size="6.9" text-anchor="end" fill="#444" stroke="#444" stroke-width="0.22" stroke-opacity="0">0.5</text>
<line x1="51.90" y1="468.56" x2="683.50" y2="468.56" stroke="#888" stroke-width="0.7" stroke-dasharray="2,1.4"/>
<text transform="translate(48.30,470.74) scale(1,1.07)" font-size="6.9" text-anchor="end" fill="#444" stroke="#444" stroke-width="0.22" stroke-opacity="0">0.6</text>
<line x1="51.90" y1="449.02" x2="683.50" y2="449.02" stroke="#888" stroke-width="0.7" stroke-dasharray="2,1.4"/>
<text transform="translate(48.30,451.52) scale(1,1.07)" font-size="6.9" text-anchor="end" fill="#444" stroke="#444" stroke-width="0.22" stroke-opacity="0">0.7</text>
<line x1="51.90" y1="429.48" x2="683.50" y2="429.48" stroke="#888" stroke-width="0.7" stroke-dasharray="2,1.4"/>
<text transform="translate(48.30,432.30) scale(1,1.07)" font-size="6.9" text-anchor="end" fill="#444" stroke="#444" stroke-width="0.22" stroke-opacity="0">0.8</text>
<text transform="translate(45.40,586.06) scale(1,1.07)" font-size="6.9" text-anchor="end" fill="#444" stroke="#444" stroke-width="0.22" stroke-opacity="0">0</text>
<line x1="51.90" y1="425.40" x2="51.90" y2="585.00" stroke="#888" stroke-width="1.2"/>
<line x1="683.50" y1="425.40" x2="683.50" y2="585.00" stroke="#888" stroke-width="1.2"/>
<line x1="51.00" y1="584.80" x2="684.00" y2="584.80" stroke="#999" stroke-width="1.1"/>
<text transform="translate(33.4,517.3) rotate(-90)" fill="#111" stroke="#111" stroke-width="0.5" font-family="Liberation Serif" font-style="italic" font-size="8.8">f</text>
<text transform="translate(34.0,512.2) rotate(-90)" fill="#222" stroke="#222" stroke-width="0.3" font-size="6.3" textLength="10.2" lengthAdjust="spacingAndGlyphs">ROH</text>
<rect x="61.20" y="554.00" width="4.15" height="30.60" fill="#9ad3dc" stroke="#666" stroke-width="0.35"/>
<rect x="65.35" y="541.80" width="4.15" height="42.80" fill="#47c25c" stroke="#666" stroke-width="0.35"/>
<rect x="69.50" y="529.90" width="4.15" height="54.70" fill="#3b78c6" stroke="#666" stroke-width="0.35"/>
<rect x="73.65" y="517.80" width="4.15" height="66.80" fill="#c01e14" stroke="#666" stroke-width="0.35"/>
<rect x="77.80" y="502.20" width="4.15" height="82.40" fill="#fc1e0e" stroke="#666" stroke-width="0.35"/>
<rect x="81.95" y="447.50" width="4.15" height="137.10" fill="#e9c133" stroke="#666" stroke-width="0.35"/>
<text transform="translate(70.00,593.90) scale(1,1.07)" font-size="8.2" text-anchor="middle" fill="#222" stroke="#222" stroke-width="0.22" stroke-opacity="0.5">1</text>
<rect x="92.26" y="555.10" width="4.15" height="29.50" fill="#9ad3dc" stroke="#666" stroke-width="0.35"/>
<rect x="96.41" y="535.20" width="4.15" height="49.40" fill="#47c25c" stroke="#666" stroke-width="0.35"/>
<rect x="100.56" y="527.60" width="4.15" height="57.00" fill="#3b78c6" stroke="#666" stroke-width="0.35"/>
<rect x="104.71" y="531.00" width="4.15" height="53.60" fill="#c01e14" stroke="#666" stroke-width="0.35"/>
<rect x="108.86" y="498.00" width="4.15" height="86.60" fill="#fc1e0e" stroke="#666" stroke-width="0.35"/>
<rect x="113.01" y="440.10" width="4.15" height="144.50" fill="#e9c133" stroke="#666" stroke-width="0.35"/>
<text transform="translate(101.45,593.90) scale(1,1.07)" font-size="8.2" text-anchor="middle" fill="#222" stroke="#222" stroke-width="0.22" stroke-opacity="0.5">2</text>
<rect x="123.32" y="561.10" width="4.15" height="23.50" fill="#9ad3dc" stroke="#666" stroke-width="0.35"/>
<rect x="127.47" y="549.80" width="4.15" height="34.80" fill="#47c25c" stroke="#666" stroke-width="0.35"/>
<rect x="131.62" y="534.70" width="4.15" height="49.90" fill="#3b78c6" stroke="#666" stroke-width="0.35"/>
<rect x="135.77" y="547.70" width="4.15" height="36.90" fill="#c01e14" stroke="#666" stroke-width="0.35"/>
<rect x="139.92" y="500.90" width="4.15" height="83.70" fill="#fc1e0e" stroke="#666" stroke-width="0.35"/>
<rect x="144.07" y="447.50" width="4.15" height="137.10" fill="#e9c133" stroke="#666" stroke-width="0.35"/>
<text transform="translate(132.90,593.90) scale(1,1.07)" font-size="8.2" text-anchor="middle" fill="#222" stroke="#222" stroke-width="0.22" stroke-opacity="0.5">3</text>
<rect x="154.38" y="561.70" width="4.15" height="22.90" fill="#9ad3dc" stroke="#666" stroke-width="0.35"/>
<rect x="158.53" y="548.70" width="4.15" height="35.90" fill="#47c25c" stroke="#666" stroke-width="0.35"/>
<rect x="162.68" y="527.00" width="4.15" height="57.60" fill="#3b78c6" stroke="#666" stroke-width="0.35"/>
<rect x="166.83" y="541.80" width="4.15" height="42.80" fill="#c01e14" stroke="#666" stroke-width="0.35"/>
<rect x="170.98" y="499.80" width="4.15" height="84.80" fill="#fc1e0e" stroke="#666" stroke-width="0.35"/>
<rect x="175.13" y="443.00" width="4.15" height="141.60" fill="#e9c133" stroke="#666" stroke-width="0.35"/>
<text transform="translate(164.35,593.90) scale(1,1.07)" font-size="8.2" text-anchor="middle" fill="#222" stroke="#222" stroke-width="0.22" stroke-opacity="0.5">4</text>
<rect x="185.44" y="559.00" width="4.15" height="25.60" fill="#9ad3dc" stroke="#666" stroke-width="0.35"/>
<rect x="189.59" y="547.90" width="4.15" height="36.70" fill="#47c25c" stroke="#666" stroke-width="0.35"/>
<rect x="193.74" y="527.00" width="4.15" height="57.60" fill="#3b78c6" stroke="#666" stroke-width="0.35"/>
<rect x="197.89" y="540.80" width="4.15" height="43.80" fill="#c01e14" stroke="#666" stroke-width="0.35"/>
<rect x="202.04" y="494.30" width="4.15" height="90.30" fill="#fc1e0e" stroke="#666" stroke-width="0.35"/>
<rect x="206.19" y="443.00" width="4.15" height="141.60" fill="#e9c133" stroke="#666" stroke-width="0.35"/>
<text transform="translate(195.80,593.90) scale(1,1.07)" font-size="8.2" text-anchor="middle" fill="#222" stroke="#222" stroke-width="0.22" stroke-opacity="0.5">5</text>
<rect x="216.50" y="542.10" width="4.15" height="42.50" fill="#9ad3dc" stroke="#666" stroke-width="0.35"/>
<rect x="220.65" y="540.00" width="4.15" height="44.60" fill="#47c25c" stroke="#666" stroke-width="0.35"/>
<rect x="224.80" y="527.60" width="4.15" height="57.00" fill="#3b78c6" stroke="#666" stroke-width="0.35"/>
<rect x="228.95" y="522.30" width="4.15" height="62.30" fill="#c01e14" stroke="#666" stroke-width="0.35"/>
<rect x="233.10" y="501.10" width="4.15" height="83.50" fill="#fc1e0e" stroke="#666" stroke-width="0.35"/>
<rect x="237.25" y="446.10" width="4.15" height="138.50" fill="#e9c133" stroke="#666" stroke-width="0.35"/>
<text transform="translate(227.25,593.90) scale(1,1.07)" font-size="8.2" text-anchor="middle" fill="#222" stroke="#222" stroke-width="0.22" stroke-opacity="0.5">6</text>
<rect x="247.56" y="546.10" width="4.15" height="38.50" fill="#9ad3dc" stroke="#666" stroke-width="0.35"/>
<rect x="251.71" y="540.00" width="4.15" height="44.60" fill="#47c25c" stroke="#666" stroke-width="0.35"/>
<rect x="255.86" y="531.00" width="4.15" height="53.60" fill="#3b78c6" stroke="#666" stroke-width="0.35"/>
<rect x="260.01" y="521.00" width="4.15" height="63.60" fill="#c01e14" stroke="#666" stroke-width="0.35"/>
<rect x="264.16" y="506.90" width="4.15" height="77.70" fill="#fc1e0e" stroke="#666" stroke-width="0.35"/>
<rect x="268.31" y="448.80" width="4.15" height="135.80" fill="#e9c133" stroke="#666" stroke-width="0.35"/>
<text transform="translate(258.70,593.90) scale(1,1.07)" font-size="8.2" text-anchor="middle" fill="#222" stroke="#222" stroke-width="0.22" stroke-opacity="0.5">7</text>
<rect x="278.62" y="544.20" width="4.15" height="40.40" fill="#9ad3dc" stroke="#666" stroke-width="0.35"/>
<rect x="282.77" y="541.60" width="4.15" height="43.00" fill="#47c25c" stroke="#666" stroke-width="0.35"/>
<rect x="286.92" y="529.70" width="4.15" height="54.90" fill="#3b78c6" stroke="#666" stroke-width="0.35"/>
<rect x="291.07" y="526.00" width="4.15" height="58.60" fill="#c01e14" stroke="#666" stroke-width="0.35"/>
<rect x="295.22" y="496.90" width="4.15" height="87.70" fill="#fc1e0e" stroke="#666" stroke-width="0.35"/>
<rect x="299.37" y="446.10" width="4.15" height="138.50" fill="#e9c133" stroke="#666" stroke-width="0.35"/>
<text transform="translate(290.15,593.90) scale(1,1.07)" font-size="8.2" text-anchor="middle" fill="#222" stroke="#222" stroke-width="0.22" stroke-opacity="0.5">8</text>
<rect x="309.68" y="550.80" width="4.15" height="33.80" fill="#9ad3dc" stroke="#666" stroke-width="0.35"/>
<rect x="313.83" y="541.60" width="4.15" height="43.00" fill="#47c25c" stroke="#666" stroke-width="0.35"/>
<rect x="317.98" y="532.10" width="4.15" height="52.50" fill="#3b78c6" stroke="#666" stroke-width="0.35"/>
<rect x="322.13" y="527.30" width="4.15" height="57.30" fill="#c01e14" stroke="#666" stroke-width="0.35"/>
<rect x="326.28" y="498.50" width="4.15" height="86.10" fill="#fc1e0e" stroke="#666" stroke-width="0.35"/>
<rect x="330.43" y="450.40" width="4.15" height="134.20" fill="#e9c133" stroke="#666" stroke-width="0.35"/>
<text transform="translate(321.60,593.90) scale(1,1.07)" font-size="8.2" text-anchor="middle" fill="#222" stroke="#222" stroke-width="0.22" stroke-opacity="0.5">9</text>
<rect x="340.74" y="560.30" width="4.15" height="24.30" fill="#9ad3dc" stroke="#666" stroke-width="0.35"/>
<rect x="344.89" y="537.60" width="4.15" height="47.00" fill="#47c25c" stroke="#666" stroke-width="0.35"/>
<rect x="349.04" y="536.60" width="4.15" height="48.00" fill="#3b78c6" stroke="#666" stroke-width="0.35"/>
<rect x="353.19" y="529.40" width="4.15" height="55.20" fill="#c01e14" stroke="#666" stroke-width="0.35"/>
<rect x="357.34" y="509.60" width="4.15" height="75.00" fill="#fc1e0e" stroke="#666" stroke-width="0.35"/>
<rect x="361.49" y="457.20" width="4.15" height="127.40" fill="#e9c133" stroke="#666" stroke-width="0.35"/>
<text transform="translate(353.05,593.90) scale(1,1.07)" font-size="8.2" text-anchor="middle" fill="#222" stroke="#222" stroke-width="0.22" stroke-opacity="0.5">10</text>
<rect x="371.80" y="553.70" width="4.15" height="30.90" fill="#9ad3dc" stroke="#666" stroke-width="0.35"/>
<rect x="375.95" y="545.30" width="4.15" height="39.30" fill="#47c25c" stroke="#666" stroke-width="0.35"/>
<rect x="380.10" y="528.10" width="4.15" height="56.50" fill="#3b78c6" stroke="#666" stroke-width="0.35"/>
<rect x="384.25" y="522.30" width="4.15" height="62.30" fill="#c01e14" stroke="#666" stroke-width="0.35"/>
<rect x="388.40" y="507.50" width="4.15" height="77.10" fill="#fc1e0e" stroke="#666" stroke-width="0.35"/>
<rect x="392.55" y="452.50" width="4.15" height="132.10" fill="#e9c133" stroke="#666" stroke-width="0.35"/>
<text transform="translate(384.50,593.90) scale(1,1.07)" font-size="8.2" text-anchor="middle" fill="#222" stroke="#222" stroke-width="0.22" stroke-opacity="0.5">11</text>
<rect x="402.86" y="553.50" width="4.15" height="31.10" fill="#9ad3dc" stroke="#666" stroke-width="0.35"/>
<rect x="407.01" y="541.30" width="4.15" height="43.30" fill="#47c25c" stroke="#666" stroke-width="0.35"/>
<rect x="411.16" y="524.90" width="4.15" height="59.70" fill="#3b78c6" stroke="#666" stroke-width="0.35"/>
<rect x="415.31" y="523.30" width="4.15" height="61.30" fill="#c01e14" stroke="#666" stroke-width="0.35"/>
<rect x="419.46" y="498.00" width="4.15" height="86.60" fill="#fc1e0e" stroke="#666" stroke-width="0.35"/>
<rect x="423.61" y="442.40" width="4.15" height="142.20" fill="#e9c133" stroke="#666" stroke-width="0.35"/>
<text transform="translate(415.95,593.90) scale(1,1.07)" font-size="8.2" text-anchor="middle" fill="#222" stroke="#222" stroke-width="0.22" stroke-opacity="0.5">12</text>
<rect x="433.92" y="552.10" width="4.15" height="32.50" fill="#9ad3dc" stroke="#666" stroke-width="0.35"/>
<rect x="438.07" y="545.30" width="4.15" height="39.30" fill="#47c25c" stroke="#666" stroke-width="0.35"/>
<rect x="442.22" y="534.20" width="4.15" height="50.40" fill="#3b78c6" stroke="#666" stroke-width="0.35"/>
<rect x="446.37" y="524.90" width="4.15" height="59.70" fill="#c01e14" stroke="#666" stroke-width="0.35"/>
<rect x="450.52" y="501.70" width="4.15" height="82.90" fill="#fc1e0e" stroke="#666" stroke-width="0.35"/>
<rect x="454.67" y="448.30" width="4.15" height="136.30" fill="#e9c133" stroke="#666" stroke-width="0.35"/>
<text transform="translate(447.40,593.90) scale(1,1.07)" font-size="8.2" text-anchor="middle" fill="#222" stroke="#222" stroke-width="0.22" stroke-opacity="0.5">13</text>
<rect x="464.98" y="561.90" width="4.15" height="22.70" fill="#9ad3dc" stroke="#666" stroke-width="0.35"/>
<rect x="469.13" y="548.70" width="4.15" height="35.90" fill="#47c25c" stroke="#666" stroke-width="0.35"/>
<rect x="473.28" y="524.90" width="4.15" height="59.70" fill="#3b78c6" stroke="#666" stroke-width="0.35"/>
<rect x="477.43" y="540.50" width="4.15" height="44.10" fill="#c01e14" stroke="#666" stroke-width="0.35"/>
<rect x="481.58" y="503.00" width="4.15" height="81.60" fill="#fc1e0e" stroke="#666" stroke-width="0.35"/>
<rect x="485.73" y="450.60" width="4.15" height="134.00" fill="#e9c133" stroke="#666" stroke-width="0.35"/>
<text transform="translate(478.85,593.90) scale(1,1.07)" font-size="8.2" text-anchor="middle" fill="#222" stroke="#222" stroke-width="0.22" stroke-opacity="0.5">14</text>
<rect x="496.04" y="556.10" width="4.15" height="28.50" fill="#9ad3dc" stroke="#666" stroke-width="0.35"/>
<rect x="500.19" y="532.30" width="4.15" height="52.30" fill="#47c25c" stroke="#666" stroke-width="0.35"/>
<rect x="504.34" y="528.40" width="4.15" height="56.20" fill="#3b78c6" stroke="#666" stroke-width="0.35"/>
<rect x="508.49" y="545.30" width="4.15" height="39.30" fill="#c01e14" stroke="#666" stroke-width="0.35"/>
<rect x="512.64" y="495.80" width="4.15" height="88.80" fill="#fc1e0e" stroke="#666" stroke-width="0.35"/>
<rect x="516.79" y="450.60" width="4.15" height="134.00" fill="#e9c133" stroke="#666" stroke-width="0.35"/>
<text transform="translate(510.30,593.90) scale(1,1.07)" font-size="8.2" text-anchor="middle" fill="#222" stroke="#222" stroke-width="0.22" stroke-opacity="0.5">15</text>
<rect x="527.10" y="565.10" width="4.15" height="19.50" fill="#9ad3dc" stroke="#666" stroke-width="0.35"/>
<rect x="531.25" y="544.00" width="4.15" height="40.60" fill="#47c25c" stroke="#666" stroke-width="0.35"/>
<rect x="535.40" y="542.10" width="4.15" height="42.50" fill="#3b78c6" stroke="#666" stroke-width="0.35"/>
<rect x="539.55" y="536.30" width="4.15" height="48.30" fill="#c01e14" stroke="#666" stroke-width="0.35"/>
<rect x="543.70" y="519.60" width="4.15" height="65.00" fill="#fc1e0e" stroke="#666" stroke-width="0.35"/>
<rect x="547.85" y="458.80" width="4.15" height="125.80" fill="#e9c133" stroke="#666" stroke-width="0.35"/>
<text transform="translate(541.75,593.90) scale(1,1.07)" font-size="8.2" text-anchor="middle" fill="#222" stroke="#222" stroke-width="0.22" stroke-opacity="0.5">16</text>
<rect x="558.16" y="558.00" width="4.15" height="26.60" fill="#9ad3dc" stroke="#666" stroke-width="0.35"/>
<rect x="562.31" y="555.10" width="4.15" height="29.50" fill="#47c25c" stroke="#666" stroke-width="0.35"/>
<rect x="566.46" y="535.80" width="4.15" height="48.80" fill="#3b78c6" stroke="#666" stroke-width="0.35"/>
<rect x="570.61" y="531.00" width="4.15" height="53.60" fill="#c01e14" stroke="#666" stroke-width="0.35"/>
<rect x="574.76" y="494.80" width="4.15" height="89.80" fill="#fc1e0e" stroke="#666" stroke-width="0.35"/>
<rect x="578.91" y="443.80" width="4.15" height="140.80" fill="#e9c133" stroke="#666" stroke-width="0.35"/>
<text transform="translate(573.20,593.90) scale(1,1.07)" font-size="8.2" text-anchor="middle" fill="#222" stroke="#222" stroke-width="0.22" stroke-opacity="0.5">17</text>
<rect x="589.22" y="557.20" width="4.15" height="27.40" fill="#9ad3dc" stroke="#666" stroke-width="0.35"/>
<rect x="593.37" y="546.90" width="4.15" height="37.70" fill="#47c25c" stroke="#666" stroke-width="0.35"/>
<rect x="597.52" y="527.80" width="4.15" height="56.80" fill="#3b78c6" stroke="#666" stroke-width="0.35"/>
<rect x="601.67" y="540.80" width="4.15" height="43.80" fill="#c01e14" stroke="#666" stroke-width="0.35"/>
<rect x="605.82" y="485.80" width="4.15" height="98.80" fill="#fc1e0e" stroke="#666" stroke-width="0.35"/>
<rect x="609.97" y="435.00" width="4.15" height="149.60" fill="#e9c133" stroke="#666" stroke-width="0.35"/>
<text transform="translate(604.65,593.90) scale(1,1.07)" font-size="8.2" text-anchor="middle" fill="#222" stroke="#222" stroke-width="0.22" stroke-opacity="0.5">18</text>
<rect x="620.28" y="564.30" width="4.15" height="20.30" fill="#9ad3dc" stroke="#666" stroke-width="0.35"/>
<rect x="624.43" y="558.00" width="4.15" height="26.60" fill="#47c25c" stroke="#666" stroke-width="0.35"/>
<rect x="628.58" y="556.90" width="4.15" height="27.70" fill="#3b78c6" stroke="#666" stroke-width="0.35"/>
<rect x="632.73" y="546.90" width="4.15" height="37.70" fill="#c01e14" stroke="#666" stroke-width="0.35"/>
<rect x="636.88" y="546.90" width="4.15" height="37.70" fill="#fc1e0e" stroke="#666" stroke-width="0.35"/>
<rect x="641.03" y="503.80" width="4.15" height="80.80" fill="#e9c133" stroke="#666" stroke-width="0.35"/>
<text transform="translate(636.10,593.90) scale(1,1.07)" font-size="8.2" text-anchor="middle" fill="#222" stroke="#222" stroke-width="0.22" stroke-opacity="0.5">19</text>
<rect x="651.34" y="566.60" width="4.15" height="18.00" fill="#9ad3dc" stroke="#666" stroke-width="0.35"/>
<rect x="655.49" y="549.20" width="4.15" height="35.40" fill="#47c25c" stroke="#666" stroke-width="0.35"/>
<rect x="659.64" y="535.00" width="4.15" height="49.60" fill="#3b78c6" stroke="#666" stroke-width="0.35"/>
<rect x="663.79" y="537.10" width="4.15" height="47.50" fill="#c01e14" stroke="#666" stroke-width="0.35"/>
<rect x="667.94" y="504.80" width="4.15" height="79.80" fill="#fc1e0e" stroke="#666" stroke-width="0.35"/>
<rect x="672.09" y="450.90" width="4.15" height="133.70" fill="#e9c133" stroke="#666" stroke-width="0.35"/>
<text transform="translate(667.55,593.90) scale(1,1.07)" font-size="8.2" text-anchor="middle" fill="#222" stroke="#222" stroke-width="0.22" stroke-opacity="0.5">20</text>
<text transform="translate(363.40,605.60) scale(1,1.07)" font-size="9.2" text-anchor="middle" fill="#222" stroke="#222" stroke-width="0.22">Inbreeding by chromosome</text>
</svg>
</body></html>
